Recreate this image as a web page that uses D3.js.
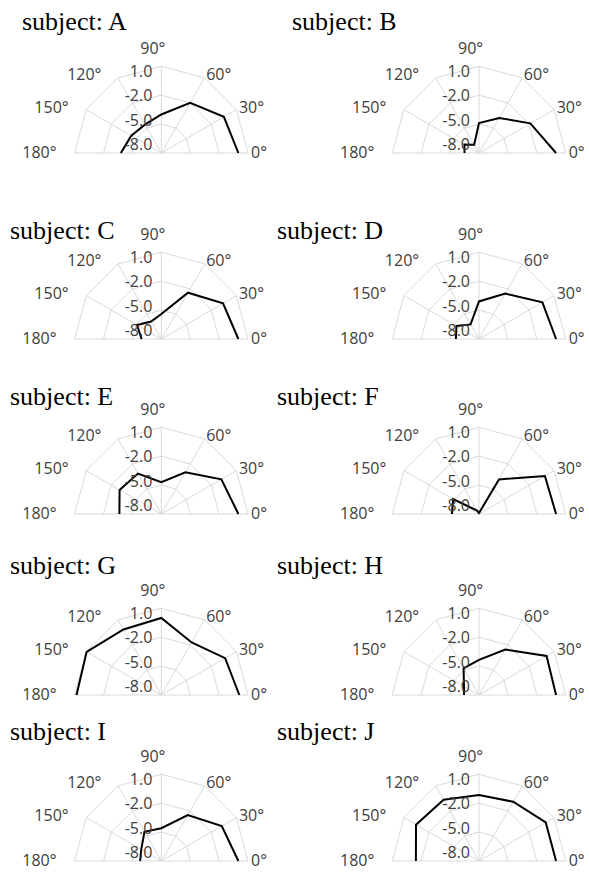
<!DOCTYPE html>
<html>
<head>
<meta charset="utf-8">
<script src="https://cdn.jsdelivr.net/npm/d3@7"></script>
<style>
  body { margin: 0; background: #fff; }
</style>
</head>
<body>
<svg id="chart" width="589" height="872"></svg>
<script>
// Data ***********************************************************************
var subjects = ["A", "B", "C", "D", "E", "F", "G", "H", "I", "J"];
var angles = [0, 30, 60, 90, 120, 150, 180];
var radialTicks = [1.0, -2.0, -5.0, -8.0];

// one value per angle (0..180 deg)
var subjA = [0.0, -0.5, -2.0, -4.0, -4.6, -4.4, -3.8];
var subjB = [0.0, -1.85, -3.8, -4.9, -7.0, -6.25, -6.5];
var subjC = [0.0, -0.6, -2.45, -5.4, -5.9, -5.1, -5.95];
var subjD = [0.0, -0.4, -2.55, -4.1, -6.25, -5.3, -5.6];
var subjE = [0.0, -0.8, -3.0, -4.7, -3.15, -3.0, -3.65];
var subjF = [0.0, -0.1, -3.85, -7.9, -7.6, -4.9, -5.2];
var subjG = [0.1, -0.35, -1.7, 0.0, -0.15, 0.95, 0.8];
var subjH = [0.0, 0.1, -2.55, -4.35, -4.8, -6.2, -6.45];
var subjI = [0.0, -0.75, -2.5, -4.6, -4.5, -5.6, -5.8];
var subjJ = [0.0, 0.0, -0.9, -1.15, -0.65, -0.45, -1.45];

var allSeries = [subjA, subjB, subjC, subjD, subjE, subjF, subjG, subjH, subjI, subjJ];

// Layout *********************************************************************
var colX = [161.3, 479];
var rowY = [153, 339, 514, 695, 861];
var titleY = [30, 239, 405, 574, 740];
var titleXLeft = [22, 10, 10, 10, 10];
var titleXRight = [292, 277, 277, 277, 277];

var R = 86.7;
var gridCol = "#d9d9d9";
var labelCol = "#404040";

var svg = d3.select("#chart");
svg.append("rect").attr("width", 589).attr("height", 872).style("fill", "#fff");

var rScale = d3.scaleLinear().domain([-8, 1]).range([0, R]);
var toRad = function(a){ return (90 - a) * Math.PI / 180; }; // d3 radial angle

for (var i = 0; i < subjects.length; i++){
    var row = Math.floor(i / 2);
    var col = i % 2;
    var cx = colX[col];
    var cy = rowY[row];

    // title
    svg.append("text")
        .attr("x", col == 0 ? titleXLeft[row] : titleXRight[row])
        .attr("y", titleY[row])
        .text("subject: " + subjects[i])
        .style("font-family", "'Liberation Serif', 'Times New Roman', serif")
        .style("font-size", "26px")
        .style("fill", "#000");

    var g = svg.append("g").attr("transform", "translate(" + cx + "," + cy + ")");

    // rings (polygonal, like a radar grid)
    radialTicks.forEach(function(t){
        if (rScale(t) <= 0) return;
        var ring = d3.lineRadial()
            .angle(function(a){ return toRad(a); })
            .radius(rScale(t));
        g.append("path")
            .attr("d", ring(angles))
            .style("fill", "none")
            .style("stroke", gridCol)
            .style("stroke-width", 1);
    });

    // spokes
    angles.forEach(function(a){
        var rad = a * Math.PI / 180;
        g.append("line")
            .attr("x1", 0).attr("y1", 0)
            .attr("x2", R * Math.cos(rad))
            .attr("y2", -R * Math.sin(rad))
            .style("stroke", gridCol)
            .style("stroke-width", 1);
    });

    // data line
    var line = d3.lineRadial()
        .angle(function(d, k){ return toRad(angles[k]); })
        .radius(function(d){ return rScale(d); });
    g.append("path")
        .attr("d", line(allSeries[i]))
        .style("fill", "none")
        .style("stroke", "#000")
        .style("stroke-width", 2)
        .style("stroke-linejoin", "miter");

    // radial tick labels
    radialTicks.forEach(function(t){
        g.append("text")
            .attr("x", -9)
            .attr("y", -0.842 * rScale(t) - 3)
            .attr("text-anchor", "end")
            .text(d3.format(".1f")(t).replace("−", "-"))
            .style("font-family", "'Open Sans', sans-serif")
            .style("font-size", "16px")
            .style("fill", labelCol);
    });

    // angle labels
    angles.forEach(function(a){
        var rad = a * Math.PI / 180;
        var px = (R + 3) * Math.cos(rad);
        var py = -(R + 3) * Math.sin(rad) + 5;
        var anchor = "start";
        if (a == 90){ px = -21; py = -R - 12; }
        else if (Math.cos(rad) < -0.01){ px = px - 15; anchor = "end"; }
        g.append("text")
            .attr("x", px)
            .attr("y", py)
            .attr("text-anchor", anchor)
            .text(a + "°")
            .style("font-family", "'Open Sans', sans-serif")
            .style("font-size", "16px")
            .style("fill", labelCol);
    });
}
</script>
</body>
</html>
